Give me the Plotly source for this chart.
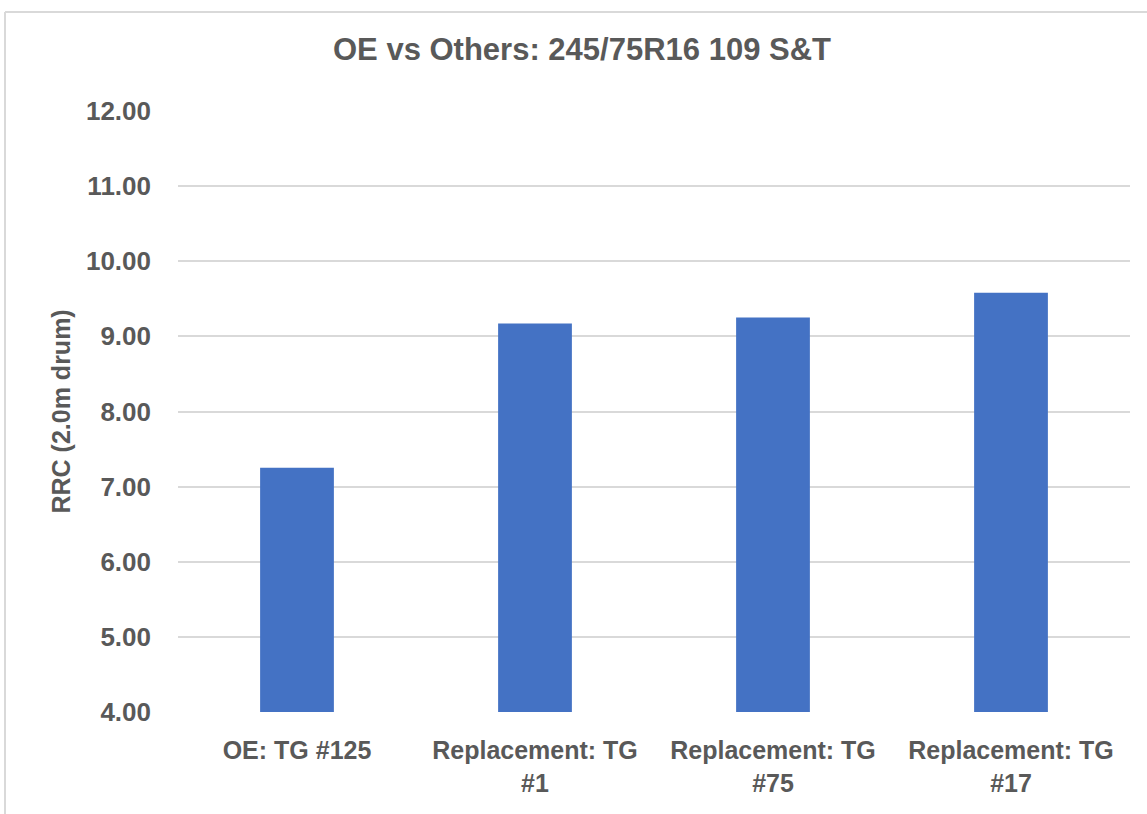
import plotly.graph_objects as go

# RRC results on the 2.0 m drum, 245/75R16 109 S&T
categories = ["OE: TG #125", "Replacement: TG<br>#1", "Replacement: TG<br>#75", "Replacement: TG<br>#17"]
rrc_values = [7.25, 9.17, 9.25, 9.58]
y_ticks = [4, 5, 6, 7, 8, 9, 10, 11, 12]

FONT = "Liberation Sans, Arial, sans-serif"
GREY_TEXT = "#595959"
GRID = "#d9d9d9"

W, H = 1147, 814
L, R, T, B = 178, 17, 111, 102
pw, ph = W - L - R, H - T - B


def px_x(x):
    return (x - L) / pw


def px_y(y):
    return (H - B - y) / ph


fig = go.Figure(
    go.Bar(
        x=categories,
        y=rrc_values,
        marker=dict(color="#4472C4", line=dict(width=0)),
    )
)

fig.update_layout(
    width=W,
    height=H,
    margin=dict(l=L, r=R, t=T, b=B),
    paper_bgcolor="white",
    plot_bgcolor="white",
    bargap=0.69,
    showlegend=False,
    font=dict(family=FONT, color=GREY_TEXT),
    title=dict(
        text="<b>OE vs Others: 245/75R16 109 S&T</b>",
        font=dict(family=FONT, size=31, color=GREY_TEXT),
        x=582 / W,
        xanchor="center",
        xref="container",
        y=1 - 49 / H,
        yanchor="middle",
        yref="container",
    ),
    xaxis=dict(
        showgrid=False,
        showline=False,
        zeroline=False,
        ticks="",
        tickfont=dict(family=FONT, size=25, color=GREY_TEXT, weight="bold"),
        ticklabelstandoff=21,
    ),
    yaxis=dict(
        range=[4, 12],
        tickvals=y_ticks,
        tickformat=".2f",
        showgrid=True,
        gridcolor=GRID,
        gridwidth=1.5,
        zeroline=False,
        showline=False,
        ticks="",
        tickfont=dict(family=FONT, size=26, color=GREY_TEXT, weight="bold"),
        ticklabelstandoff=26,
    ),
    annotations=[
        dict(
            text="<b>RRC (2.0m drum)</b>",
            textangle=-90,
            x=px_x(60),
            y=0.5,
            xref="paper",
            yref="paper",
            xanchor="center",
            yanchor="middle",
            showarrow=False,
            font=dict(family=FONT, size=25, color=GREY_TEXT),
        )
    ],
    shapes=[
        # chart frame edges
        dict(type="line", xref="paper", yref="paper",
             x0=px_x(5), x1=px_x(W + 5), y0=px_y(12), y1=px_y(12),
             line=dict(color=GRID, width=2)),
        dict(type="line", xref="paper", yref="paper",
             x0=px_x(5), x1=px_x(5), y0=px_y(12), y1=px_y(H + 5),
             line=dict(color=GRID, width=2)),
    ],
)

fig.write_html("out.html")
